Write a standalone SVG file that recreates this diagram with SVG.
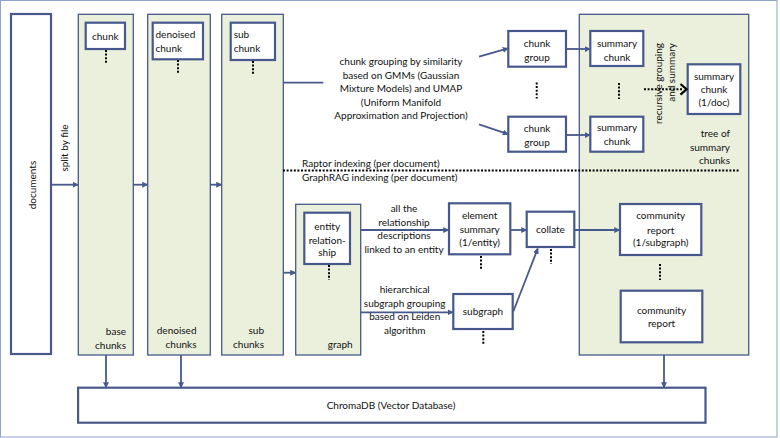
<svg xmlns="http://www.w3.org/2000/svg" width="780" height="438" viewBox="0 0 780 438">
  <style>
    text { font-family: Lato, "Liberation Sans", sans-serif; font-size: 10px; fill: #111; }
    .c { text-anchor: middle; }
    .e { text-anchor: end; }
    .panel { fill: #ebf0dd; stroke: #47598c; stroke-width: 1.3; }
    .box { fill: #fff; stroke: #47598c; stroke-width: 2.2; }
    .link { fill: none; stroke: #47598c; stroke-width: 1.8; }
    .arrow { marker-end: url(#head); }
    .dots { fill: none; stroke: #000; stroke-width: 2; stroke-dasharray: 2 1.6; }
  </style>
  <defs>
    <marker id="head" viewBox="0 0 8 8" refX="7" refY="4" markerWidth="6" markerHeight="6" markerUnits="userSpaceOnUse" orient="auto">
      <path d="M0,0 L8,4 L0,8 z" fill="#47598c"/>
    </marker>
  </defs>

  <!-- outer frame -->
  <rect x="0.5" y="0.5" width="776.5" height="436.5" fill="#fff" stroke="#8fa3cb" stroke-width="1"/>

  <!-- source documents -->
  <g id="documents">
    <rect class="box" x="11" y="14" width="40" height="340"/>
    <text class="c" transform="translate(35.5,185) rotate(-90)">documents</text>
  </g>

  <!-- base chunks column -->
  <g id="base-chunks">
    <rect class="panel" x="78.3" y="14.3" width="55" height="340.7"/>
    <rect class="box" x="85.7" y="22.7" width="39.3" height="26.3"/>
    <text class="c" x="105.3" y="39.5">chunk</text>
    <line class="dots" x1="106" y1="50" x2="106" y2="64"/>
    <text class="e" x="126" y="335">base</text>
    <text class="e" x="126" y="348.5">chunks</text>
  </g>

  <!-- denoised chunks column -->
  <g id="denoised-chunks">
    <rect class="panel" x="147.7" y="14.3" width="62.6" height="340.7"/>
    <rect class="box" x="152.7" y="22.7" width="50.3" height="36.6"/>
    <text x="155.5" y="38">denoised</text>
    <text x="155.5" y="52">chunk</text>
    <line class="dots" x1="178" y1="60" x2="178" y2="74"/>
    <text class="e" x="196.5" y="334">denoised</text>
    <text class="e" x="196.5" y="348">chunks</text>
  </g>

  <!-- sub chunks column -->
  <g id="sub-chunks">
    <rect class="panel" x="221.7" y="14.3" width="61.6" height="340.7"/>
    <rect class="box" x="230.7" y="22.7" width="44.3" height="37.3"/>
    <text x="233.7" y="38">sub</text>
    <text x="233.7" y="52">chunk</text>
    <line class="dots" x1="253" y1="61" x2="253" y2="75"/>
    <text class="e" x="264" y="334">sub</text>
    <text class="e" x="264" y="348">chunks</text>
  </g>

  <!-- Raptor: chunk groups -->
  <g id="chunk-group-1">
    <rect class="box" x="508.3" y="31" width="57.7" height="35.7"/>
    <text class="c" x="537" y="46.5">chunk</text>
    <text class="c" x="537" y="60.5">group</text>
  </g>
  <line class="dots" x1="536.7" y1="82.5" x2="536.7" y2="98.5"/>
  <g id="chunk-group-2">
    <rect class="box" x="508.3" y="116.7" width="57.7" height="35"/>
    <text class="c" x="537" y="131.5">chunk</text>
    <text class="c" x="537" y="145.5">group</text>
  </g>

  <!-- Raptor / GraphRAG results panel -->
  <g id="summary-panel">
    <rect class="panel" x="579.3" y="14.3" width="169.4" height="340.7"/>
    <text class="e" x="730" y="137">tree of</text>
    <text class="e" x="730" y="150.5">summary</text>
    <text class="e" x="730" y="164">chunks</text>
  </g>
  <g id="summary-chunk-1">
    <rect class="box" x="590.3" y="31" width="53" height="35"/>
    <text class="c" x="617" y="46.5">summary</text>
    <text class="c" x="617" y="60.5">chunk</text>
  </g>
  <line class="dots" x1="619" y1="83" x2="619" y2="99"/>
  <g id="summary-chunk-2">
    <rect class="box" x="590.3" y="116.7" width="53" height="35"/>
    <text class="c" x="617" y="131">summary</text>
    <text class="c" x="617" y="145">chunk</text>
  </g>
  <g id="summary-chunk-doc">
    <rect class="box" x="687.7" y="64.3" width="52.6" height="49.7"/>
    <text class="c" x="714" y="79.5">summary</text>
    <text class="c" x="714" y="93">chunk</text>
    <text class="c" x="714" y="105.5">(1/doc)</text>
  </g>

  <!-- GraphRAG: graph column -->
  <g id="graph">
    <rect class="panel" x="295.7" y="204.3" width="65" height="150.7"/>
    <rect class="box" x="304.3" y="212.7" width="45.7" height="51.3"/>
    <text class="c" x="327.2" y="229.5">entity</text>
    <text class="c" x="327.2" y="243.5">relation-</text>
    <text class="c" x="327.2" y="256">ship</text>
    <line class="dots" x1="329" y1="265" x2="329" y2="280"/>
    <text class="e" x="352.7" y="348">graph</text>
  </g>
  <g id="element-summary">
    <rect class="box" x="449" y="203.3" width="61.3" height="51"/>
    <text class="c" x="479.7" y="219">element</text>
    <text class="c" x="479.7" y="233">summary</text>
    <text class="c" x="479.7" y="246">(1/entity)</text>
    <line class="dots" x1="481" y1="256" x2="481" y2="270"/>
  </g>
  <g id="subgraph">
    <rect class="box" x="453.3" y="294" width="59.4" height="35"/>
    <text class="c" x="483" y="315">subgraph</text>
    <line class="dots" x1="483.3" y1="331" x2="483.3" y2="345"/>
  </g>
  <g id="collate">
    <rect class="box" x="526.7" y="211.7" width="47.6" height="35.3"/>
    <text class="c" x="550.5" y="233">collate</text>
    <line class="dots" x1="551" y1="249" x2="551" y2="264"/>
  </g>
  <g id="community-report-1">
    <rect class="box" x="620" y="204" width="81.3" height="51"/>
    <text class="c" x="660.7" y="219">community</text>
    <text class="c" x="660.7" y="233.5">report</text>
    <text class="c" x="660.7" y="246">(1/subgraph)</text>
  </g>
  <line class="dots" x1="660" y1="264" x2="660" y2="280"/>
  <g id="community-report-2">
    <rect class="box" x="620.7" y="290.7" width="81.6" height="51.6"/>
    <text class="c" x="661.5" y="313.5">community</text>
    <text class="c" x="661.5" y="327">report</text>
  </g>

  <!-- vector store -->
  <g id="chromadb">
    <rect class="box" x="78.1" y="387.7" width="627.4" height="35"/>
    <text class="c" x="391" y="409">ChromaDB (Vector Database)</text>
  </g>

  <!-- section divider between the two indexing pipelines -->
  <g id="divider">
    <line class="dots" x1="283" y1="170.5" x2="740" y2="170.5"/>
    <text x="302" y="167">Raptor indexing (per document)</text>
    <text x="302" y="181">GraphRAG indexing (per document)</text>
  </g>

  <!-- connectors -->
  <g id="connectors">
    <line class="link arrow" x1="51" y1="184.7" x2="78" y2="184.7"/>
    <text class="c" transform="translate(67.5,148) rotate(-90)">split by file</text>
    <line class="link arrow" x1="133.3" y1="184.7" x2="147.5" y2="184.7"/>
    <line class="link arrow" x1="210.3" y1="184.7" x2="221.5" y2="184.7"/>

    <line class="link" x1="283.3" y1="82.7" x2="323.3" y2="82.7"/>
    <text class="c" x="401" y="65">chunk grouping by similarity</text>
    <text class="c" x="401" y="78.5">based on GMMs (Gaussian</text>
    <text class="c" x="401" y="92">Mixture Models) and UMAP</text>
    <text class="c" x="401" y="105.5">(Uniform Manifold</text>
    <text class="c" x="401" y="119">Approximation and Projection)</text>
    <line class="link arrow" x1="479" y1="56.7" x2="508" y2="48.4"/>
    <line class="link arrow" x1="479" y1="124.3" x2="508" y2="134.2"/>
    <line class="link arrow" x1="566" y1="49" x2="590" y2="49"/>
    <line class="link arrow" x1="566" y1="135" x2="590" y2="135"/>

    <line class="dots" x1="644" y1="89.3" x2="683" y2="89.3"/>
    <polyline points="680.5,84 686.5,89.3 680.5,94.6" fill="none" stroke="#000" stroke-width="2.2"/>
    <text class="e" transform="translate(661.5,43) rotate(-90)">recursive grouping</text>
    <text class="e" transform="translate(674.5,43) rotate(-90)">and summary</text>

    <line class="link arrow" x1="283.3" y1="272.7" x2="295.5" y2="272.7"/>
    <line class="link arrow" x1="360.7" y1="230" x2="448.5" y2="230"/>
    <text class="c" x="404" y="212">all the</text>
    <text class="c" x="404" y="225.5">relationship</text>
    <text class="c" x="404" y="239">descriptions</text>
    <text class="c" x="404" y="252.5">linked to an entity</text>
    <line class="link arrow" x1="360.7" y1="312.3" x2="452.8" y2="312.3"/>
    <text class="c" x="404.7" y="293">hierarchical</text>
    <text class="c" x="404.7" y="307">subgraph grouping</text>
    <text class="c" x="404.7" y="320">based on Leiden</text>
    <text class="c" x="404.7" y="334">algorithm</text>
    <line class="link arrow" x1="510.3" y1="230" x2="526.5" y2="230"/>
    <line class="link arrow" x1="513.3" y1="311.5" x2="537.8" y2="248.5"/>
    <line class="link arrow" x1="574.3" y1="230" x2="619.5" y2="230"/>

    <line class="link arrow" x1="106" y1="355" x2="106" y2="387.5"/>
    <line class="link arrow" x1="181" y1="355" x2="181" y2="387.5"/>
    <line class="link arrow" x1="664" y1="355" x2="664" y2="387.5"/>
  </g>
</svg>
